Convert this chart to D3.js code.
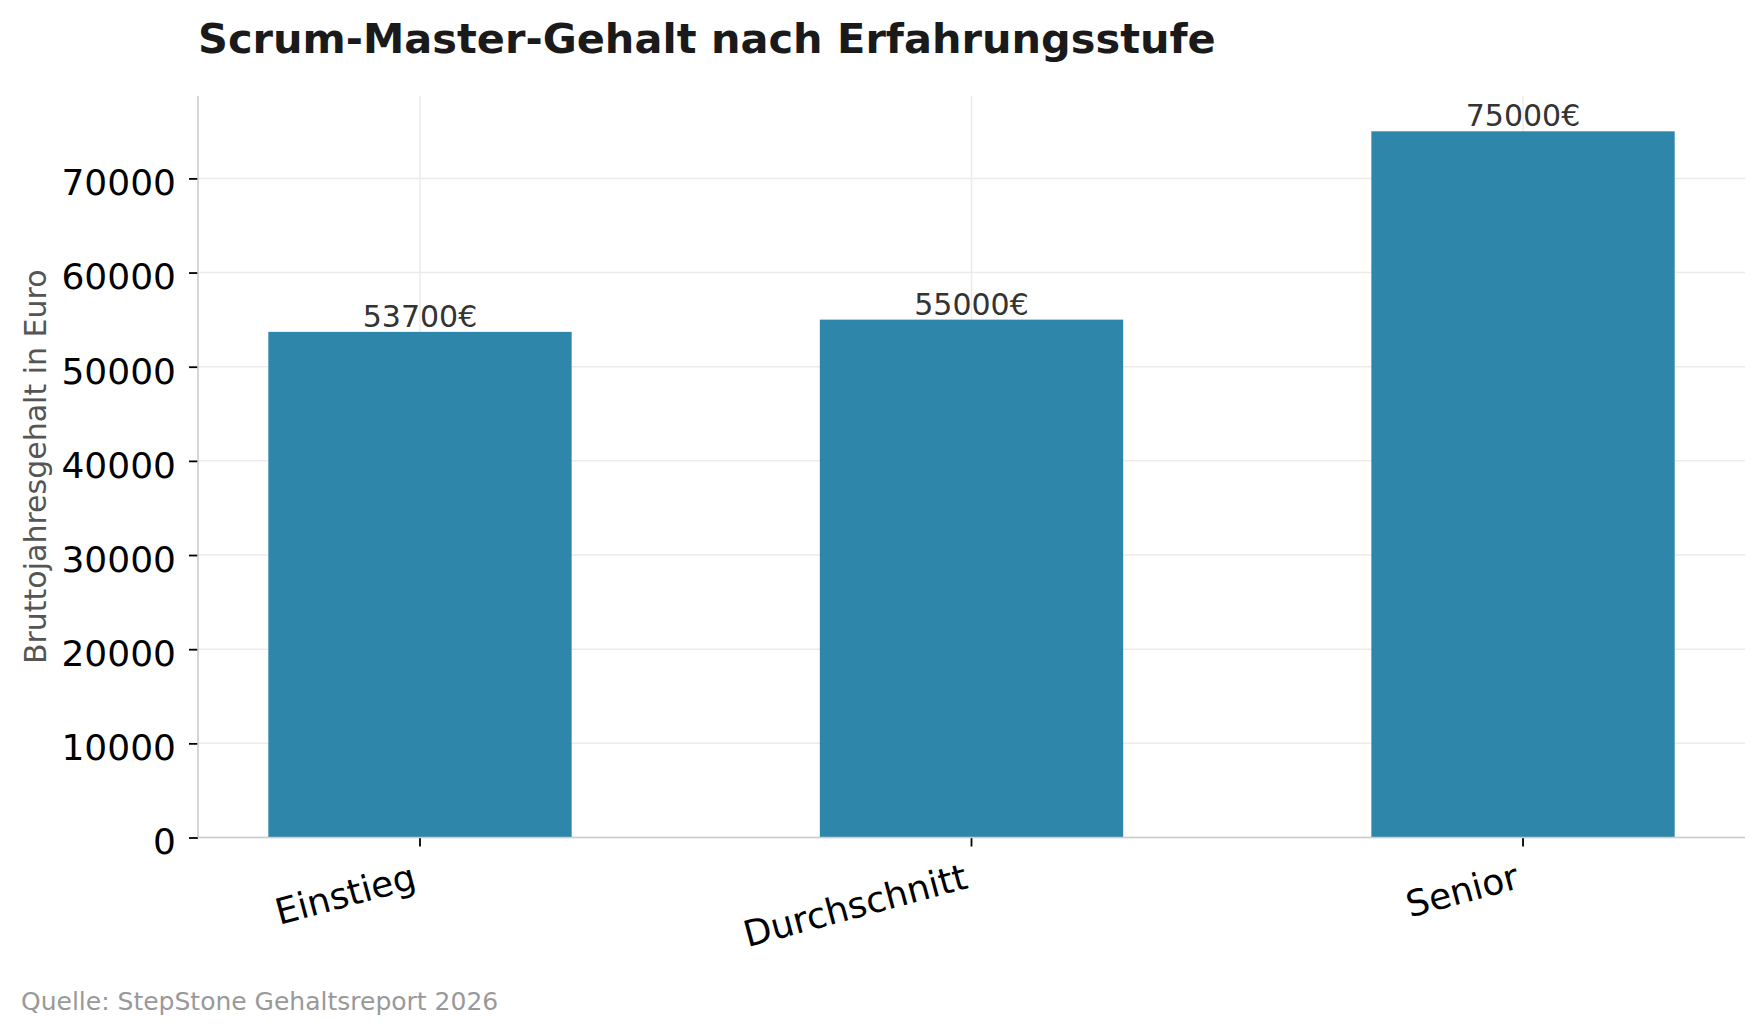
<!DOCTYPE html>
<html><head><meta charset="utf-8">
<script src="https://cdn.jsdelivr.net/npm/d3@7"></script>
<style>
html,body{margin:0;padding:0;background:#fff;}
svg{display:block;font-family:"DejaVu Sans",sans-serif;}
</style></head>
<body>
<svg id="chart" width="1764" height="1035"></svg>
<script>
const categories = ["Einstieg", "Durchschnitt", "Senior"];
const salaries = [53700, 55000, 75000];
const yTicks = [0, 10000, 20000, 30000, 40000, 50000, 60000, 70000];
const titleText = "Scrum-Master-Gehalt nach Erfahrungsstufe";
const yLabelText = "Bruttojahresgehalt in Euro";
const sourceText = "Quelle: StepStone Gehaltsreport 2026";

const W = 1764, H = 1035;
const m = {left: 198, right: 1745, top: 96, bottom: 837.5};
const svg = d3.select("#chart");

const x = d3.scaleBand().domain(categories).range([m.left, m.right])
  .paddingInner(0.45).paddingOuter(0.1275);
const y = d3.scaleLinear().domain([0, d3.max(salaries) * 1.05]).range([m.bottom, m.top]);

// grid
const grid = svg.append("g");
grid.selectAll("line.h").data(yTicks).join("line")
  .attr("x1", m.left).attr("x2", m.right)
  .attr("y1", d => y(d)).attr("y2", d => y(d))
  .attr("stroke", "#ebebeb").attr("stroke-width", 1.5);
grid.selectAll("line.v").data(categories).join("line")
  .attr("x1", d => x(d) + x.bandwidth()/2).attr("x2", d => x(d) + x.bandwidth()/2)
  .attr("y1", m.top).attr("y2", m.bottom)
  .attr("stroke", "#ebebeb").attr("stroke-width", 1.5);

// bars
svg.append("g").selectAll("rect").data(categories).join("rect")
  .attr("x", d => x(d)).attr("width", x.bandwidth())
  .attr("y", (d,i) => y(salaries[i]))
  .attr("height", (d,i) => y(0) - y(salaries[i]))
  .attr("fill", "#2E86AB");

// bar labels
svg.append("g").selectAll("text").data(categories).join("text")
  .attr("x", d => x(d) + x.bandwidth()/2)
  .attr("y", (d,i) => y(salaries[i]) - 5)
  .attr("text-anchor", "middle")
  .attr("font-size", 30).attr("fill", "#333")
  .text((d,i) => salaries[i] + "€");

// y axis
const yAxis = d3.axisLeft(y).tickValues(yTicks).tickFormat(d3.format("d")).tickSize(9).tickPadding(13);
const gy = svg.append("g").attr("transform", `translate(${m.left},0)`).call(yAxis);
gy.select(".domain").remove();
gy.selectAll(".tick line").attr("stroke", "#000").attr("stroke-width", 1.8);
gy.selectAll(".tick text").attr("font-size", 36).attr("fill", "#000")
  .attr("font-family", "DejaVu Sans").attr("dy", null).attr("y", 16.3);

// x axis
const xAxis = d3.axisBottom(x).tickSize(9).tickFormat("");
const gx = svg.append("g").attr("transform", `translate(0,${m.bottom})`).call(xAxis);
gx.select(".domain").remove();
gx.selectAll(".tick line").attr("stroke", "#000").attr("stroke-width", 1.8);

// rotated x labels
const fs = 36, th = Math.PI * 15 / 180;
const hBox = 1.164 * fs, desc = 0.236 * fs;
const topY = m.bottom + 9 + 9;
svg.append("g").selectAll("text").data(categories).join("text")
  .attr("transform", d => {
    const cx = x(d) + x.bandwidth()/2;
    const bry = topY + hBox * Math.cos(th);
    const px = cx - desc * Math.sin(th);
    const py = bry - desc * Math.cos(th);
    return `translate(${px},${py}) rotate(-15)`;
  })
  .attr("text-anchor", "end").attr("font-size", fs).attr("fill", "#000")
  .text(d => d);

// spines
svg.append("line").attr("x1", m.left).attr("x2", m.left).attr("y1", m.top).attr("y2", m.bottom)
  .attr("stroke", "#cccccc").attr("stroke-width", 1.6);
svg.append("line").attr("x1", m.left).attr("x2", m.right).attr("y1", m.bottom).attr("y2", m.bottom)
  .attr("stroke", "#cccccc").attr("stroke-width", 1.6);

// y label
svg.append("text").attr("transform", `translate(46,${(m.top+m.bottom)/2}) rotate(-90)`)
  .attr("text-anchor", "middle").attr("font-size", 30).attr("fill", "#555")
  .text(yLabelText);

// title
svg.append("text").attr("x", 198).attr("y", 52.5)
  .attr("font-size", 41.5).attr("font-weight", "bold").attr("fill", "#1a1a1a")
  .text(titleText);

// source
svg.append("text").attr("x", 21).attr("y", 1010)
  .attr("font-size", 25).attr("fill", "#999")
  .text(sourceText);
</script>
</body></html>
